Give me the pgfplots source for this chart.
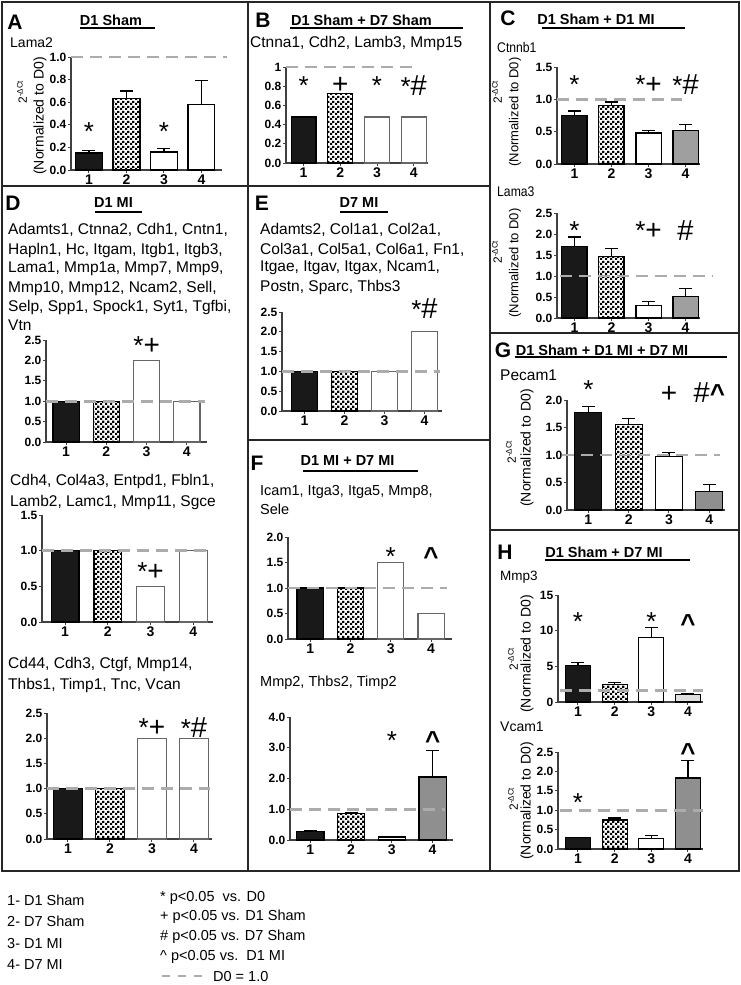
\documentclass[border=0pt]{standalone}
\usepackage{fontspec}
\setmainfont{Liberation Sans}
\usepackage{graphicx}
\usepackage{pgfplots}
\pgfplotsset{compat=1.18}
\usetikzlibrary{patterns}
\pgfdeclarepatternformonly{finecheck}{\pgfqpoint{0pt}{0pt}}{\pgfqpoint{5pt}{5pt}}{\pgfqpoint{5pt}{5pt}}{%
 \pgfpathrectangle{\pgfqpoint{0pt}{0pt}}{\pgfqpoint{2.5pt}{2.5pt}}%
 \pgfpathrectangle{\pgfqpoint{2.5pt}{2.5pt}}{\pgfqpoint{2.5pt}{2.5pt}}%
 \pgfusepath{fill}}
\newcommand{\gfont}{\fontsize{15.5}{18}\selectfont}
\newcommand{\tfont}{\bfseries\fontsize{14.5}{17}\selectfont}
\newcommand{\lfont}{\bfseries\fontsize{21}{21}\selectfont}
\newcommand{\sa}{{\fontsize{26}{26}\selectfont *}}
\newcommand{\pl}{{\fontsize{28}{28}\selectfont +}}
\newcommand{\hs}{{\fontsize{29}{29}\selectfont \#}}
\newcommand{\ca}{{\bfseries\fontsize{26}{26}\selectfont \textasciicircum}}
\newcommand{\dct}{{\fontsize{12}{12}\selectfont 2\textsuperscript{-ΔCt}}}
\pgfplotsset{
  bp/.style={
    scale only axis, anchor=south west, clip=false,
    axis x line*=bottom, axis y line*=left,
    axis line style={black!75, line width=1.2pt},
    ymin=0, xtick={1,2,3,4}, xticklabels={1,2,3,4},
    tick align=outside, major tick length=3pt,
    every tick/.style={black!75, line width=1pt},
    x tick label style={font=\bfseries\fontsize{14}{14}\selectfont, inner sep=1.5pt},
    y tick label style={font=\bfseries\fontsize{12}{12}\selectfont, inner sep=1.5pt},
    ybar, bar shift=0pt,
  },
  bk/.style={fill=black!90, draw=black, line width=1.2pt},
  ck/.style={pattern=finecheck, pattern color=black, draw=black, line width=1.2pt},
  wt/.style={fill=white, draw=black, line width=1.2pt},
  wtg/.style={fill=white, draw=black!60, line width=1.2pt},
  gy/.style={fill=gray!75, draw=black, line width=1.2pt},
  dg/.style={fill=gray!88, draw=black, line width=1.2pt},
  lg/.style={fill=gray!25, draw=black, line width=1.2pt},
  eb/.style={/pgfplots/error bars/y dir=plus, /pgfplots/error bars/y explicit,
     /pgfplots/error bars/error bar style={black, line width=1.3pt, solid},
     /pgfplots/error bars/error mark options={black, line width=1.3pt, mark size=6.5pt, rotate=90}},
  d0/.style={sharp plot, no marks, gray!65, line width=2.8pt, dash pattern=on 12pt off 7pt, forget plot},
}
\tikzset{ann/.style={inner sep=0pt, yshift=-4pt}}
\begin{document}
\begin{tikzpicture}
\path[use as bounding box] (0pt,0pt) rectangle (741pt,-985pt);

% ---------- A ----------
\begin{axis}[bp, at={(71pt,-170pt)}, width=151pt, height=113pt,
  xmin=0.52, xmax=4.55, ymax=1.0, bar width=0.72,
  ytick={0,0.2,0.4,0.6,0.8,1.0}, yticklabels={0.0,0.2,0.4,0.6,0.8,1.0}]
\addplot[bk, eb] coordinates {(1,0.15) +- (0,0.02)};
\addplot[ck, eb] coordinates {(2,0.63) +- (0,0.07)};
\addplot[wt, eb] coordinates {(3,0.16) +- (0,0.03)};
\addplot[wt, eb] coordinates {(4,0.58) +- (0,0.21)};
\addplot[d0] coordinates {(0.52,1) (4.68,1)};
\node[ann] at (axis cs:1,0.38) {\sa};
\node[ann] at (axis cs:3,0.38) {\sa};
\end{axis}

% ---------- B ----------
\begin{axis}[bp, at={(286pt,-163pt)}, width=142pt, height=96pt,
  xmin=0.52, xmax=4.39, ymax=1.0, bar width=0.68,
  ytick={0,0.2,0.4,0.6,0.8,1.0}, yticklabels={0.0,0.2,0.4,0.6,0.8,1}]
\addplot[bk] coordinates {(1,0.48)};
\addplot[ck] coordinates {(2,0.72)};
\addplot[wtg] coordinates {(3,0.48)};
\addplot[wtg] coordinates {(4,0.48)};
\addplot[d0] coordinates {(0.52,1) (3.96,1)};
\node[ann] at (axis cs:1,0.85) {\sa};
\node[ann] at (axis cs:2,0.85) {\pl};
\node[ann] at (axis cs:3,0.85) {\sa};
\node[ann] at (axis cs:4,0.85) {\sa\hs};
\end{axis}

% ---------- C top ----------
\begin{axis}[bp, at={(557pt,-164pt)}, width=143pt, height=97pt,
  xmin=0.53, xmax=4.39, ymax=1.5, bar width=0.68,
  ytick={0,0.5,1,1.5}, yticklabels={0.0,0.5,1.0,1.5}]
\addplot[bk, eb] coordinates {(1,0.75) +- (0,0.07)};
\addplot[ck, eb] coordinates {(2,0.90) +- (0,0.06)};
\addplot[wt, eb] coordinates {(3,0.48) +- (0,0.04)};
\addplot[gy, eb] coordinates {(4,0.52) +- (0,0.09)};
\addplot[d0] coordinates {(0.53,1) (3.9,1)};
\node[ann] at (axis cs:1,1.29) {\sa};
\node[ann] at (axis cs:3,1.29) {\sa\pl};
\node[ann] at (axis cs:4,1.29) {\sa\hs};
\end{axis}

% ---------- C bottom ----------
\begin{axis}[bp, at={(557pt,-318pt)}, width=143pt, height=105pt,
  xmin=0.53, xmax=4.39, ymax=2.5, bar width=0.68,
  ytick={0,0.5,1,1.5,2,2.5}, yticklabels={0.0,0.5,1.0,1.5,2.0,2.5}]
\addplot[bk, eb] coordinates {(1,1.70) +- (0,0.23)};
\addplot[ck, eb] coordinates {(2,1.47) +- (0,0.18)};
\addplot[wt, eb] coordinates {(3,0.30) +- (0,0.10)};
\addplot[gy, eb] coordinates {(4,0.52) +- (0,0.18)};
\addplot[d0] coordinates {(0.6,1) (4.72,1)};
\node[ann] at (axis cs:1,2.17) {\sa};
\node[ann] at (axis cs:3,2.17) {\sa\pl};
\node[ann] at (axis cs:4,2.17) {\hs};
\end{axis}

% ---------- D1 ----------
\begin{axis}[bp, at={(46pt,-442pt)}, width=161pt, height=102pt,
  xmin=0.5, xmax=4.5, ymax=2.5, bar width=0.65,
  ytick={0,0.5,1,1.5,2,2.5}, yticklabels={0.0,0.5,1.0,1.5,2.0,2.5}]
\addplot[bk] coordinates {(1,1)};
\addplot[ck] coordinates {(2,1)};
\addplot[wtg] coordinates {(3,2)};
\addplot[wtg] coordinates {(4,1)};
\addplot[d0] coordinates {(0.5,1) (4.45,1)};
\node[ann] at (axis cs:3,2.45) {\sa\pl};
\end{axis}

% ---------- D2 ----------
\begin{axis}[bp, at={(42pt,-622pt)}, width=171pt, height=107pt,
  xmin=0.46, xmax=4.46, ymax=1.5, bar width=0.65,
  ytick={0,0.5,1,1.5}, yticklabels={0.0,0.5,1.0,1.5}]
\addplot[bk] coordinates {(1,1)};
\addplot[ck] coordinates {(2,1)};
\addplot[wtg] coordinates {(3,0.5)};
\addplot[wtg] coordinates {(4,1)};
\addplot[d0] coordinates {(0.46,1) (4.39,1)};
\node[ann] at (axis cs:3,0.76) {\sa\pl};
\end{axis}

% ---------- D3 ----------
\begin{axis}[bp, at={(47pt,-839pt)}, width=165pt, height=126pt,
  xmin=0.5, xmax=4.43, ymax=2.5, bar width=0.68,
  ytick={0,0.5,1,1.5,2,2.5}, yticklabels={0.0,0.5,1.0,1.5,2.0,2.5}]
\addplot[bk] coordinates {(1,1)};
\addplot[ck] coordinates {(2,1)};
\addplot[wtg] coordinates {(3,2)};
\addplot[wtg] coordinates {(4,2)};
\addplot[d0] coordinates {(0.5,1) (4.38,1)};
\node[ann] at (axis cs:3,2.3) {\sa\pl};
\node[ann] at (axis cs:4,2.3) {\sa\hs};
\end{axis}

% ---------- E ----------
\begin{axis}[bp, at={(282pt,-411pt)}, width=160pt, height=99pt,
  xmin=0.44, xmax=4.44, ymax=2.5, bar width=0.65,
  ytick={0,0.5,1,1.5,2,2.5}, yticklabels={0.0,0.5,1.0,1.5,2.0,2.5}]
\addplot[bk] coordinates {(1,1)};
\addplot[ck] coordinates {(2,1)};
\addplot[wtg] coordinates {(3,1)};
\addplot[wtg] coordinates {(4,2)};
\addplot[d0] coordinates {(0.44,1) (4.39,1)};
\node[ann] at (axis cs:4,2.68) {\sa\hs};
\end{axis}

% ---------- F1 ----------
\begin{axis}[bp, at={(288pt,-639pt)}, width=164pt, height=102pt,
  xmin=0.45, xmax=4.52, ymax=2.0, bar width=0.65,
  ytick={0,0.5,1,1.5,2}, yticklabels={0.0,0.5,1.0,1.5,2.0}]
\addplot[bk] coordinates {(1,1)};
\addplot[ck] coordinates {(2,1)};
\addplot[wtg] coordinates {(3,1.5)};
\addplot[wtg] coordinates {(4,0.5)};
\addplot[d0] coordinates {(0.45,1) (4.4,1)};
\node[ann] at (axis cs:3,1.7) {\sa};
\node[ann] at (axis cs:4,1.7) {\ca};
\end{axis}

% ---------- F2 ----------
\begin{axis}[bp, at={(290pt,-840pt)}, width=163pt, height=123pt,
  xmin=0.5, xmax=4.5, ymax=4.0, bar width=0.67,
  ytick={0,1,2,3,4}, yticklabels={0.0,1.0,2.0,3.0,4.0}]
\addplot[bk, eb] coordinates {(1,0.28) +- (0,0.04)};
\addplot[ck, eb] coordinates {(2,0.85) +- (0,0.05)};
\addplot[wt, eb] coordinates {(3,0.10) +- (0,0.02)};
\addplot[dg, eb] coordinates {(4,2.05) +- (0,0.85)};
\addplot[d0] coordinates {(0.5,1) (4.3,1)};
\node[ann] at (axis cs:3,3.35) {\sa};
\node[ann] at (axis cs:4,3.35) {\ca};
\end{axis}

% ---------- G ----------
\begin{axis}[bp, at={(567pt,-510pt)}, width=158pt, height=110pt,
  xmin=0.47, xmax=4.39, ymax=2.0, bar width=0.67,
  ytick={0,0.5,1,1.5,2}, yticklabels={0.0,0.5,1.0,1.5,2.0}]
\addplot[bk, eb] coordinates {(1,1.78) +- (0,0.10)};
\addplot[ck, eb] coordinates {(2,1.55) +- (0,0.11)};
\addplot[wt, eb] coordinates {(3,0.98) +- (0,0.07)};
\addplot[dg, eb] coordinates {(4,0.34) +- (0,0.12)};
\addplot[d0] coordinates {(0.35,1) (4.27,1)};
\node[ann] at (axis cs:1,2.27) {\sa};
\node[ann] at (axis cs:3,2.17) {\pl};
\node[ann] at (axis cs:4,2.2) {\hs\ca};
\end{axis}

% ---------- H1 ----------
\begin{axis}[bp, at={(558pt,-702pt)}, width=145pt, height=107pt,
  xmin=0.455, xmax=4.41, ymax=15, bar width=0.68,
  ytick={0,5,10,15}, yticklabels={0,5,10,15}]
\addplot[bk, eb] coordinates {(1,5.1) +- (0,0.4)};
\addplot[ck, eb] coordinates {(2,2.5) +- (0,0.2)};
\addplot[wt, eb] coordinates {(3,9.0) +- (0,1.4)};
\addplot[lg, eb] coordinates {(4,1.0) +- (0,0.2)};
\addplot[d0] coordinates {(0.5,1.6) (4.41,1.6)};
\node[ann] at (axis cs:1,11.8) {\sa};
\node[ann] at (axis cs:3,11.8) {\sa};
\node[ann] at (axis cs:4,11.5) {\ca};
\end{axis}

% ---------- H2 ----------
\begin{axis}[bp, at={(558pt,-849pt)}, width=145pt, height=97pt,
  xmin=0.455, xmax=4.41, ymax=2.5, bar width=0.68,
  ytick={0,0.5,1,1.5,2,2.5}, yticklabels={0.0,0.5,1.0,1.5,2.0,2.5}]
\addplot[bk, eb] coordinates {(1,0.29) +- (0,0.01)};
\addplot[ck, eb] coordinates {(2,0.75) +- (0,0.05)};
\addplot[wt, eb] coordinates {(3,0.28) +- (0,0.07)};
\addplot[dg, eb] coordinates {(4,1.83) +- (0,0.45)};
\addplot[d0] coordinates {(0.5,1) (4.41,1)};
\node[ann] at (axis cs:1,1.3) {\sa};
\node[ann] at (axis cs:4,2.6) {\ca};
\end{axis}

\begin{scope}[x=1pt,y=-1pt]
% borders
\draw[line width=2.5pt, black!85] (2,2) rectangle (739,871);
\draw[line width=2.5pt, black!85] (248,2)--(248,871);
\draw[line width=2.5pt, black!85] (490,2)--(490,871);
\draw[line width=2.5pt, black!85] (2,186)--(490,186);
\draw[line width=2.5pt, black!85] (248,440)--(490,440);
\draw[line width=2.5pt, black!85] (490,333)--(739,333);
\draw[line width=2.5pt, black!85] (490,530)--(739,530);

% panel letters
\node[font=\lfont] at (15,22) {A};
\node[font=\lfont] at (263,20) {B};
\node[font=\lfont] at (508,18) {C};
\node[font=\lfont] at (13,203) {D};
\node[font=\lfont] at (262,203) {E};
\node[font=\lfont] at (257,463) {F};
\node[font=\lfont] at (503,350) {G};
\node[font=\lfont] at (505,552) {H};

% titles
\node[font=\tfont] at (111,20) {D1 Sham};
\draw[line width=1.5pt] (80,28)--(155,28);
\node[font=\tfont] at (361.5,20) {D1 Sham + D7 Sham};
\draw[line width=1.5pt] (290,28)--(463,28);
\node[font=\tfont] at (596,19) {D1 Sham + D1 MI};
\draw[line width=1.5pt] (542,28)--(685,28);
\node[font=\tfont] at (113.5,203) {D1 MI};
\draw[line width=1.5pt] (95,212)--(142,212);
\node[font=\tfont] at (359,203) {D7 MI};
\draw[line width=1.5pt] (340,212)--(388,212);
\node[font=\tfont] at (347.5,461) {D1 MI + D7 MI};
\draw[line width=1.5pt] (303,471)--(418,471);
\node[font=\tfont] at (602,350) {D1 Sham + D1 MI + D7 MI};
\draw[line width=1.5pt] (515,357)--(727,357);
\node[font=\tfont] at (604,552) {D1 Sham + D7 MI};
\draw[line width=1.5pt] (545,560)--(690,560);

% gene names
\tikzset{gene/.style={anchor=west, inner sep=0pt, font=\gfont}}
\node[gene, font=\fontsize{14}{16}\selectfont] at (10,43) {Lama2};
\node[gene] at (250,43) {Ctnna1, Cdh2, Lamb3, Mmp15};
\node[gene, font=\fontsize{14}{16}\selectfont] at (497,47) {\scalebox{0.87}[1]{Ctnnb1}};
\node[gene, font=\fontsize{14}{16}\selectfont] at (497,192) {\scalebox{0.87}[1]{Lama3}};
\node[gene] at (8,230) {Adamts1, Ctnna2, Cdh1, Cntn1,};
\node[gene] at (8,250) {Hapln1, Hc, Itgam, Itgb1, Itgb3,};
\node[gene] at (8,269) {Lama1, Mmp1a, Mmp7, Mmp9,};
\node[gene] at (8,288) {Mmp10, Mmp12, Ncam2, Sell,};
\node[gene] at (8,307) {Selp, Spp1, Spock1, Syt1, Tgfbi,};
\node[gene] at (8,325) {Vtn};
\node[gene] at (10,481) {Cdh4, Col4a3, Entpd1, Fbln1,};
\node[gene] at (10,502) {Lamb2, Lamc1, Mmp11, Sgce};
\node[gene] at (8,664) {Cd44, Cdh3, Ctgf, Mmp14,};
\node[gene] at (8,685) {Thbs1, Timp1, Tnc, Vcan};
\node[gene] at (260,230) {Adamts2, Col1a1, Col2a1,};
\node[gene] at (260,250) {Col3a1, Col5a1, Col6a1, Fn1,};
\node[gene] at (260,268) {Itgae, Itgav, Itgax, Ncam1,};
\node[gene] at (260,287) {Postn, Sparc, Thbs3};
\node[gene, font=\fontsize{14.5}{16}\selectfont] at (260,492) {Icam1, Itga3, Itga5, Mmp8,};
\node[gene, font=\fontsize{14.5}{16}\selectfont] at (260,509) {Sele};
\node[gene, font=\fontsize{14.5}{16}\selectfont] at (260,683) {Mmp2, Thbs2, Timp2};
\node[gene] at (500,375) {Pecam1};
\node[gene, font=\fontsize{13.5}{16}\selectfont] at (500,577) {Mmp3};
\node[gene, font=\fontsize{14}{16}\selectfont] at (500,727) {Vcam1};

% y labels
\tikzset{ylab/.style={rotate=90, inner sep=0pt, font=\fontsize{14}{14}\selectfont}}
\node[ylab] at (40,116) {(Normalized to D0)};
\node[rotate=90, inner sep=0pt] at (22,92) {\dct};
\node[ylab, font=\fontsize{13}{13}\selectfont] at (515,112) {(Normalized to D0)};
\node[rotate=90, inner sep=0pt] at (497,92) {\dct};
\node[ylab, font=\fontsize{13}{13}\selectfont] at (515,263) {(Normalized to D0)};
\node[rotate=90, inner sep=0pt] at (497,252) {\dct};
\node[ylab] at (527,448) {(Normalized to D0)};
\node[rotate=90, inner sep=0pt] at (511,452) {\dct};
\node[ylab] at (527,654) {(Normalized to D0)};
\node[rotate=90, inner sep=0pt] at (513,659) {\dct};
\node[ylab] at (527,801) {(Normalized to D0)};
\node[rotate=90, inner sep=0pt] at (513,799) {\dct};

% legend
\tikzset{leg/.style={anchor=west, inner sep=0pt, font=\fontsize{14.5}{17}\selectfont}}
\node[leg] at (7,900) {1- D1 Sham};
\node[leg] at (7,921) {2- D7 Sham};
\node[leg] at (7,943) {3- D1 MI};
\node[leg] at (7,965) {4- D7 MI};
\node[leg] at (160,898) {* p<0.05\ \ vs. D0};
\node[leg] at (160,917) {+ p<0.05 vs. D1 Sham};
\node[leg] at (160,937) {\# p<0.05 vs. D7 Sham};
\node[leg] at (160,957) {\textasciicircum{} p<0.05 vs.\ \ D1 MI};
\draw[gray!65, line width=2.4pt, dash pattern=on 8pt off 8pt] (162,976)--(205,976);
\node[leg] at (213,976) {D0 = 1.0};
\end{scope}
\end{tikzpicture}
\end{document}
